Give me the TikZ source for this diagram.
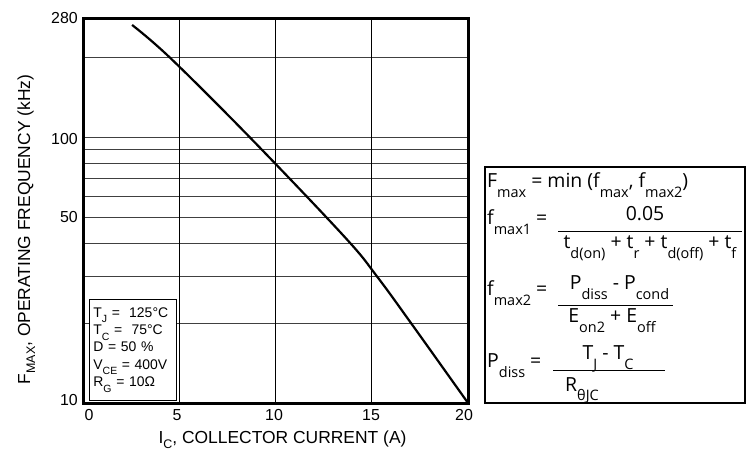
\documentclass[tikz,border=0pt]{standalone}
\usepackage{fontspec}
\setmainfont{Liberation Sans}
\newfontfamily\eqfont{Open Sans}
\newcommand{\axsub}[1]{\raisebox{-5bp}{\fontsize{12.5}{12.5}\selectfont #1}}
\newcommand{\boxsub}[1]{\raisebox{-5.5bp}{\fontsize{10.5}{10.5}\selectfont #1}}
\newcommand{\eqsub}[1]{\raisebox{-9.5bp}{\fontsize{14.5}{14.5}\selectfont #1}}
\begin{document}
\begin{tikzpicture}[x=1bp,y=-1bp,
  gridline/.style={black!75,line width=0.9bp},
  frameline/.style={line width=3bp},
  curveline/.style={line width=2.2bp,line join=round},
  ticklabel/.style={font=\fontsize{16}{16}\selectfont,inner sep=0pt},
  axislabel/.style={font=\fontsize{17.5}{17.5}\selectfont,inner sep=0pt},
  condbox/.style={draw,fill=white,line width=0.8bp,anchor=north west,align=left,
    text width=79bp,inner sep=4bp,minimum height=101bp,
    font=\fontsize{14}{17.5}\selectfont},
  eqbox/.style={draw,line width=2bp,minimum width=260bp,minimum height=236bp},
  eqtext/.style={font=\eqfont\fontsize{19.5}{19.5}\selectfont,inner sep=0pt},
  fracbar/.style={line width=0.9bp}]
\useasboundingbox (0,0) rectangle (753,451);
% plot area, x in A, y in log10(f)-1
\begin{scope}[shift={(83,403)},x=19.25bp,y=265.4bp]
 \draw[gridline](0,0.3010)--(20,0.3010);
 \draw[gridline](0,0.4771)--(20,0.4771);
 \draw[gridline](0,0.6021)--(20,0.6021);
 \draw[gridline](0,0.6990)--(20,0.6990);
 \draw[gridline](0,0.7782)--(20,0.7782);
 \draw[gridline](0,0.8451)--(20,0.8451);
 \draw[gridline](0,0.9031)--(20,0.9031);
 \draw[gridline](0,0.9542)--(20,0.9542);
 \draw[gridline](0,1.0000)--(20,1.0000);
 \draw[gridline](0,1.3010)--(20,1.3010);
 \draw[gridline,black](5,0)--(5,1.4472);
 \draw[gridline,black](10,0)--(10,1.4472);
 \draw[gridline,black](15,0)--(15,1.4472);
 \draw[frameline](0,0) rectangle (20,1.4472);
 \draw[curveline] plot[smooth,tension=0.6] coordinates {(2.55,1.4243) (4.52,1.3010)
   (8.68,1.0000) (13.6,0.6250) (15.27,0.4771) (17.04,0.3010) (20,0)};
\end{scope}
% axis ticks and labels
\node[ticklabel,anchor=base east] (y280) at (78,23.5) {280};
\node[ticklabel,anchor=base east] (y100) at (78,145) {100};
\node[ticklabel,anchor=base east] (y50) at (78,223) {50};
\node[ticklabel,anchor=base east] (y10) at (78,405) {10};
\node[ticklabel,anchor=base] (x0) at (89,420) {0};
\node[ticklabel,anchor=base] (x5) at (177,420) {5};
\node[ticklabel,anchor=base] (x10) at (274,420) {10};
\node[ticklabel,anchor=base] (x15) at (371,420) {15};
\node[ticklabel,anchor=base] (x20) at (464,420) {20};
\node[axislabel,anchor=base] (xlabel) at (282.5,443) {I\axsub{C}, COLLECTOR CURRENT (A)};
\node[axislabel,anchor=base,rotate=90] (ylabel) at (30,229.5) {F\axsub{MAX}, OPERATING FREQUENCY (kHz)};
% test conditions
\node[condbox] (cond) at (89,299) {T\boxsub{J} =\ \ 125°C\\ T\boxsub{C} =\ \ 75°C\\ D = 50 \%\\ V\boxsub{CE} = 400V\\ R\boxsub{G} = 10Ω};
% formulas
\node[eqbox] (eqs) at (615,285) {};
\node[eqtext,anchor=base west] (fmax) at (487,188) {F\eqsub{max} = min (f\eqsub{max}, f\eqsub{max2})};
\node[eqtext,anchor=base west] (fone) at (487,225) {f\eqsub{max1} =};
\node[eqtext,anchor=base] (fonenum) at (645,221) {0.05};
\node[eqtext,anchor=base] (foneden) at (650,249) {t\eqsub{d(on)} + t\eqsub{r} + t\eqsub{d(off)} + t\eqsub{f}};
\draw[fracbar] (558,231) -- (742,231);
\node[eqtext,anchor=base west] (ftwo) at (487,296) {f\eqsub{max2} =};
\node[eqtext,anchor=base] (ftwonum) at (619.5,290) {P\eqsub{diss} - P\eqsub{cond}};
\node[eqtext,anchor=base] (ftwoden) at (612,323) {E\eqsub{on2} + E\eqsub{off}};
\draw[fracbar] (558,305) -- (673,305);
\node[eqtext,anchor=base west] (pdiss) at (487,368) {P\eqsub{diss} =};
\node[eqtext,anchor=base] (pdissnum) at (608,360) {T\eqsub{J} - T\eqsub{C}};
\node[eqtext,anchor=base west] (pdissden) at (565,391) {R\eqsub{θJC}};
\draw[fracbar] (553,370) -- (665,370);
\end{tikzpicture}
\end{document}
